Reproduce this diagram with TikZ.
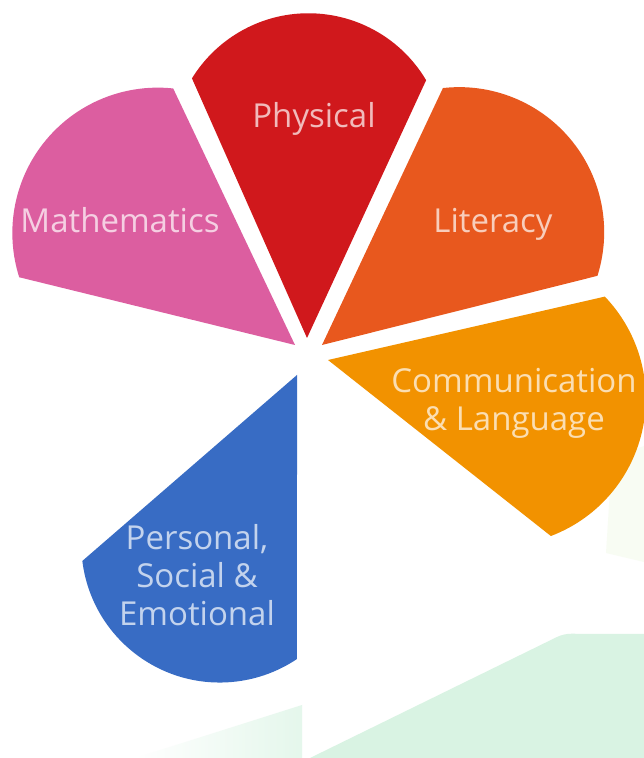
\documentclass[tikz,border=0pt]{standalone}
\usepackage{fontspec}
\setmainfont{Open Sans}
\usetikzlibrary{positioning}

\definecolor{physred}{HTML}{D0181C}
\definecolor{mathpink}{HTML}{DC5EA0}
\definecolor{litorange}{HTML}{E8581E}
\definecolor{commamber}{HTML}{F29200}
\definecolor{psedblue}{HTML}{386CC4}
\definecolor{mint}{HTML}{D9F3E3}
\definecolor{palegreen}{HTML}{F8FCF3}

\begin{document}
\begin{tikzpicture}[x=1pt, y=1pt,
  petal/.style={fill=#1},
  petaltext/.style={text=#1!30!white, align=center, font=\fontsize{33}{38}\selectfont}
]
\fill[white] (0,0) rectangle (644,758);
\useasboundingbox (0,0) rectangle (644,758);

% faint shapes of the cropped background
\fill[mint] (310,0) -- (557,121) to[out=25,in=180] (585,124) -- (644,124) -- (644,0) -- cycle;
\shade[left color=white, right color=mint!70] (135,0) -- (302,53) -- (302,0) -- cycle;
\fill[palegreen] (612,300) -- (644,312) -- (644,196) -- (606,205) -- cycle;

% petals: tip x/y, edge angles, colour
\foreach \tx/\ty/\ta/\tb/\col in {307/420/65.2/113.9/physred, 295/413/115.4/166.2/mathpink,
    322/413/14.1/64.8/litorange, 328/398/-38.3/12.9/commamber, 297/383/220.9/270/psedblue}{
  \pgfmathsetmacro\half{(\tb-\ta)/2}
  \pgfmathsetmacro\mid{(\ta+\tb)/2}
  \pgfmathsetmacro\hc{284*sin(\half)}
  \pgfmathsetmacro\rad{33+(\hc/132)*\hc}
  \pgfmathsetmacro\bet{atan2(\hc,\rad-66)}
  \fill[petal=\col] (\tx,\ty) -- ++(\ta:284pt)
    arc[start angle=\mid-\bet, end angle=\mid+\bet, radius=\rad pt] -- cycle;
}

\node[petaltext=physred, anchor=base] (physical) at (314,630) {Physical};
\node[petaltext=mathpink, anchor=base] (maths) at (120,525) {Mathematics};
\node[petaltext=litorange, anchor=base] (literacy) at (493,525) {Literacy};
\node[petaltext=commamber] (commlang) at (514,355) {Communication\\\& Language};
\node[petaltext=psedblue] (pse) at (197,183) {Personal,\\Social \&\\Emotional};
\end{tikzpicture}
\end{document}
